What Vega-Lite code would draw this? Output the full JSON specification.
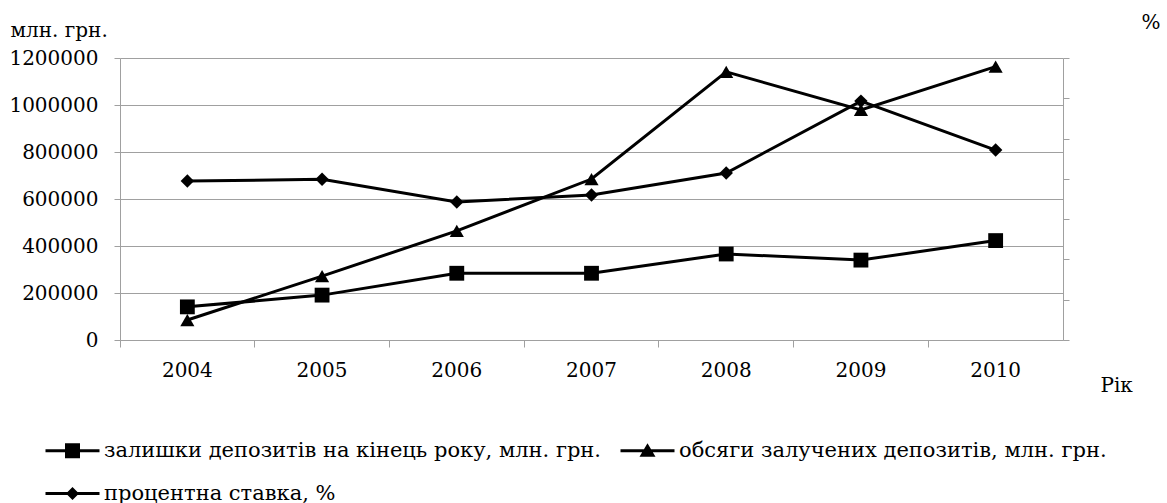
{
  "$schema": "https://vega.github.io/schema/vega-lite/v6.json",
  "autosize": {"type": "none"},
  "width": 943,
  "height": 282,
  "padding": {"left": 120, "top": 58, "right": 104, "bottom": 163},
  "background": "white",
  "config": {
    "view": {"stroke": null},
    "font": "DejaVu Serif",
    "axis": {"labelFont": "DejaVu Serif", "titleFont": "DejaVu Serif", "labelColor": "black", "titleColor": "black", "titleFontWeight": "normal", "domainColor": "#a0a0a0", "tickColor": "#a0a0a0", "gridColor": "#a0a0a0"},
    "legend": {"labelFont": "DejaVu Serif"}
  },
  "data": {
    "values": [
      {"year": "2004", "series": "залишки депозитів на кінець року, млн. грн.", "value": 141000},
      {"year": "2005", "series": "залишки депозитів на кінець року, млн. грн.", "value": 191000},
      {"year": "2006", "series": "залишки депозитів на кінець року, млн. грн.", "value": 284000},
      {"year": "2007", "series": "залишки депозитів на кінець року, млн. грн.", "value": 284000},
      {"year": "2008", "series": "залишки депозитів на кінець року, млн. грн.", "value": 366000},
      {"year": "2009", "series": "залишки депозитів на кінець року, млн. грн.", "value": 340000},
      {"year": "2010", "series": "залишки депозитів на кінець року, млн. грн.", "value": 423000},
      {"year": "2004", "series": "обсяги залучених депозитів, млн. грн.", "value": 85000},
      {"year": "2005", "series": "обсяги залучених депозитів, млн. грн.", "value": 272000},
      {"year": "2006", "series": "обсяги залучених депозитів, млн. грн.", "value": 464000},
      {"year": "2007", "series": "обсяги залучених депозитів, млн. грн.", "value": 685000},
      {"year": "2008", "series": "обсяги залучених депозитів, млн. грн.", "value": 1141000},
      {"year": "2009", "series": "обсяги залучених депозитів, млн. грн.", "value": 979000},
      {"year": "2010", "series": "обсяги залучених депозитів, млн. грн.", "value": 1163000},
      {"year": "2004", "series": "процентна ставка, %", "value": 7.89},
      {"year": "2005", "series": "процентна ставка, %", "value": 7.98},
      {"year": "2006", "series": "процентна ставка, %", "value": 6.85},
      {"year": "2007", "series": "процентна ставка, %", "value": 7.2},
      {"year": "2008", "series": "процентна ставка, %", "value": 8.29},
      {"year": "2009", "series": "процентна ставка, %", "value": 11.86},
      {"year": "2010", "series": "процентна ставка, %", "value": 9.43}
    ]
  },
  "layer": [
    {
      "encoding": {
        "x": {
          "field": "year", "type": "ordinal",
          "scale": {"type": "band", "paddingInner": 0, "paddingOuter": 0},
          "axis": {"orient": "bottom", "ticks": false, "domain": false, "grid": false, "labelAngle": 0, "labelFontSize": 20, "labelPadding": 20,
                   "title": "Рік", "titleFontSize": 20, "titleAngle": 0, "titleAlign": "left", "titleBaseline": "middle", "titleX": 980, "titleY": 45}
        },
        "y": {
          "field": "value", "type": "quantitative",
          "scale": {"domain": [0, 1200000]},
          "axis": {"orient": "left", "values": [0, 200000, 400000, 600000, 800000, 1000000, 1200000], "format": "d", "grid": true, "tickSize": 6, "labelPadding": 16, "labelFontSize": 20,
                   "title": "млн. грн.", "titleFontSize": 20, "titleAngle": 0, "titleAlign": "left", "titleBaseline": "middle", "titleX": -110, "titleY": -28}
        }
      },
      "layer": [
        {"transform": [{"filter": "datum.series !== 'процентна ставка, %'"}],
         "mark": {"type": "line", "color": "black", "strokeWidth": 3}, "encoding": {"detail": {"field": "series"}}},
        {"transform": [{"filter": "datum.series === 'залишки депозитів на кінець року, млн. грн.'"}],
         "mark": {"type": "point", "filled": true, "color": "black", "opacity": 1, "size": 220, "shape": "square"}},
        {"transform": [{"filter": "datum.series === 'обсяги залучених депозитів, млн. грн.'"}],
         "mark": {"type": "point", "filled": true, "color": "black", "opacity": 1, "size": 200, "shape": "triangle-up"}},
        {"transform": [{"filter": "datum.series === 'обсяги залучених депозитів, млн. грн.'"}],
         "mark": {"type": "point", "filled": true, "color": "black", "opacity": 0, "size": 100},
         "encoding": {"shape": {"field": "series", "type": "nominal",
           "scale": {"domain": ["залишки депозитів на кінець року, млн. грн.", "обсяги залучених депозитів, млн. грн.", "процентна ставка, %"],
                     "range": ["M-5.4,-0.3L5.4,-0.3L5.4,0.3L-5.4,0.3Z M-1.5,-1.5L1.5,-1.5L1.5,1.5L-1.5,1.5Z", "M-5.4,-0.3L5.4,-0.3L5.4,0.3L-5.4,0.3Z M0,-1.5L1.6,1.2L-1.6,1.2Z", "M-5.4,-0.3L5.4,-0.3L5.4,0.3L-5.4,0.3Z M0,-1.3L1.3,0L0,1.3L-1.3,0Z"]},
           "legend": {
             "orient": "none", "legendX": -58, "legendY": 382, "direction": "horizontal", "columns": 2, "title": null,
             "padding": 0, "columnPadding": 18, "rowPadding": 21, "symbolSize": 100, "labelOffset": 21,
             "labelFontSize": 21, "labelColor": "black", "labelLimit": 1000,
             "symbolFillColor": "black", "symbolStrokeColor": "black", "symbolStrokeWidth": 0, "symbolOpacity": 1
           }}}}
      ]
    },
    {
      "transform": [{"filter": "datum.series === 'процентна ставка, %'"}],
      "encoding": {
        "x": {
          "field": "year", "type": "ordinal",
          "axis": {"orient": "bottom", "bandPosition": 0, "labels": false, "ticks": true, "tickSize": 7, "domain": true, "grid": false, "title": null}
        },
        "y": {
          "field": "value", "type": "quantitative",
          "scale": {"domain": [0, 14]},
          "axis": {"orient": "right", "values": [0, 2, 4, 6, 8, 10, 12, 14], "labels": false, "grid": false, "tickSize": 6,
                   "title": "%", "titleFontSize": 20, "titleAngle": 0, "titleAlign": "left", "titleBaseline": "middle", "titleX": 78, "titleY": -36}
        }
      },
      "layer": [
        {"mark": {"type": "line", "color": "black", "strokeWidth": 3}},
        {"mark": {"type": "point", "filled": true, "color": "black", "opacity": 1, "size": 180, "shape": "diamond"}}
      ]
    }
  ],
  "resolve": {"scale": {"y": "independent"}, "axis": {"x": "independent"}}
}
